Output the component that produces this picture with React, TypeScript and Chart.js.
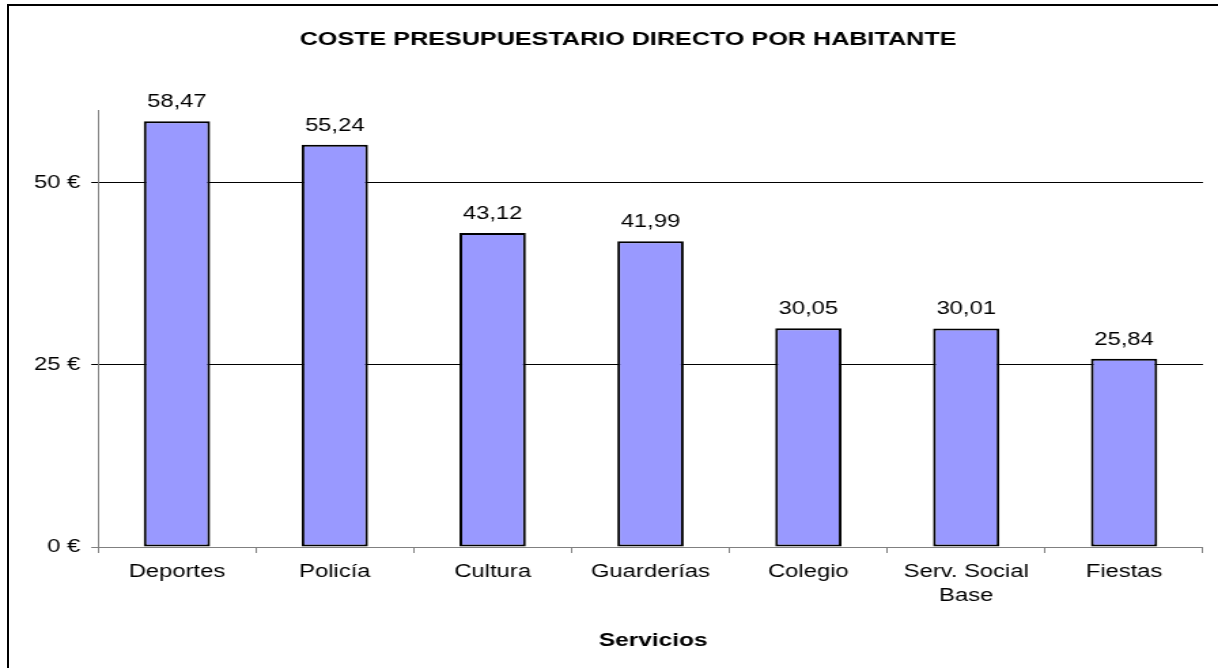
import React, { useEffect, useRef } from "react";
import { Chart, registerables } from "chart.js";
Chart.register(...registerables);

const TITLE = "COSTE PRESUPUESTARIO DIRECTO POR HABITANTE";
const X_TITLE = "Servicios";
const categories: (string | string[])[] = [
  "Deportes",
  "Policía",
  "Cultura",
  "Guarderías",
  "Colegio",
  ["Serv. Social", "Base"],
  "Fiestas",
];
const values = [58.47, 55.24, 43.12, 41.99, 30.05, 30.01, 25.84];
const yTickValues = [0, 25, 50];
const Y_MAX = 60;

const CW = 896;
const CH = 668;
const S = 1218 / CW;
const FONT = "'Liberation Sans', Arial, sans-serif";

const fmt = (v: number) => v.toFixed(2).replace(".", ",");

export default function App() {
  const ref = useRef<HTMLCanvasElement>(null);
  useEffect(() => {
    if (!ref.current) return;
    const textPlugin = {
      id: "texts",
      afterDatasetsDraw(chart: any) {
        const ctx = chart.ctx;
        ctx.save();
        ctx.fillStyle = "#000";
        ctx.textAlign = "center";
        ctx.textBaseline = "alphabetic";
        ctx.font = `17.5px ${FONT}`;
        const meta = chart.getDatasetMeta(0);
        meta.data.forEach((el: any, i: number) => {
          ctx.fillText(fmt(values[i]), el.x, el.y - 14);
        });
        ctx.font = `bold 18.5px ${FONT}`;
        ctx.fillText(TITLE, 628 / S, 45);
        ctx.font = `bold 18px ${FONT}`;
        const ca = chart.chartArea;
        ctx.fillText(X_TITLE, (ca.left + ca.right) / 2 + 2, 646);
        ctx.restore();
      },
    };
    const chart = new Chart(ref.current, {
      type: "bar",
      data: {
        labels: categories,
        datasets: [
          {
            data: values,
            backgroundColor: "#9999FF",
            borderColor: "#000",
            borderWidth: 2,
            borderSkipped: false,
            barPercentage: 0.42,
            categoryPercentage: 1,
          },
        ],
      },
      options: {
        responsive: false,
        animation: false,
        devicePixelRatio: 1,
        layout: { padding: { top: 110, right: CW - 1203 / S, bottom: 0, left: 0 } },
        plugins: { legend: { display: false }, title: { display: false }, tooltip: { enabled: false } },
        scales: {
          x: {
            afterFit: (s: any) => {
              s.height = CH - 547;
            },
            grid: {
              offset: true,
              drawOnChartArea: false,
              drawTicks: true,
              tickLength: 6,
              color: "#808080",
            },
            border: { display: true, color: "#808080", width: 1 },
            ticks: {
              color: "#000",
              padding: 8,
              maxRotation: 0,
              autoSkip: false,
              font: { family: FONT, size: 17.5, lineHeight: 1.33 },
            },
          },
          y: {
            min: 0,
            max: Y_MAX,
            afterFit: (s: any) => {
              s.width = 98 / S;
            },
            afterBuildTicks: (s: any) => {
              s.ticks = yTickValues.map((v) => ({ value: v }));
            },
            grid: {
              color: (c: any) => (c.tick && c.tick.value === 0 ? "#808080" : "#000"),
              tickLength: 5,
              lineWidth: 1,
            },
            border: { display: true, color: "#808080", width: 1 },
            ticks: {
              color: "#000",
              padding: 8,
              callback: (v: any) => `${v} €`,
              font: { family: FONT, size: 17.5 },
            },
          },
        },
      },
      plugins: [textPlugin],
    } as any);
    return () => chart.destroy();
  }, []);

  return (
    <div
      style={{
        position: "absolute",
        left: 0,
        top: 0,
        width: 1218,
        height: 668,
        overflow: "hidden",
        background: "#fff",
      }}
    >
      <canvas
        ref={ref}
        width={CW}
        height={CH}
        style={{
          position: "absolute",
          left: 0,
          top: 0,
          transform: `scaleX(${S})`,
          transformOrigin: "0 0",
        }}
      />
      <div
        style={{
          position: "absolute",
          left: 7,
          top: 4,
          width: 1400,
          height: 800,
          borderLeft: "2px solid #000",
          borderTop: "2px solid #000",
        }}
      />
    </div>
  );
}
